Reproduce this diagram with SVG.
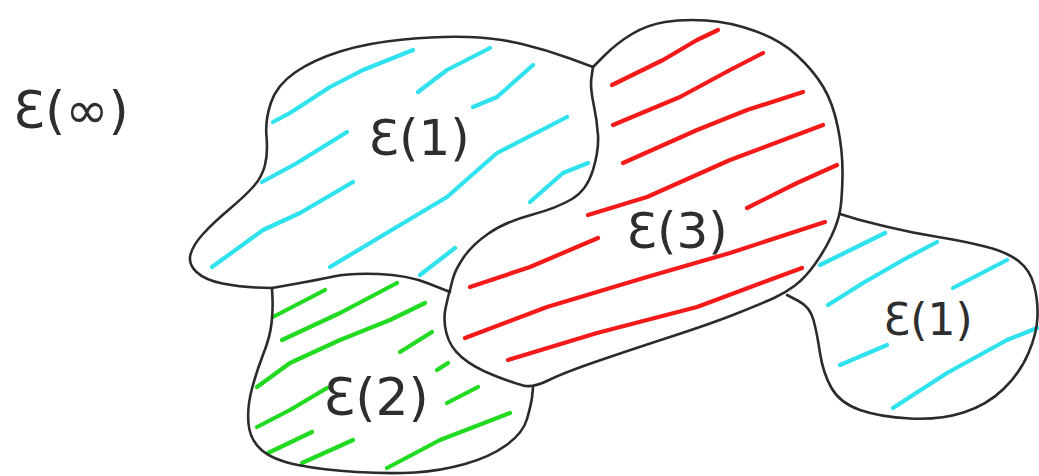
<svg xmlns="http://www.w3.org/2000/svg" width="1039" height="476" viewBox="0 0 1039 476">
<style>
.ol{fill:none;stroke:#2b2b2b;stroke-width:2.6;stroke-linecap:round;stroke-linejoin:round}
.h{fill:none;stroke-width:4.2;stroke-linecap:round;stroke-linejoin:round}
.c{stroke:#30e2ee}
.r{stroke:#f41a1a}
.g{stroke:#22da22}
.lab{font-family:"DejaVu Sans","Liberation Sans",sans-serif;fill:#2e2e2e;text-anchor:middle}
</style>
<rect width="1039" height="476" fill="#ffffff"/>
<g id="region-e-inf">
<text class="lab" x="71" y="128" font-size="52">Ɛ(∞)</text>
</g>
<g id="region-e1">
<g class="h c">
<polyline points="273,122 290,113 330,87 363,70 413,50"/>
<polyline points="418,92 447,70 490,48"/>
<polyline points="473,107 497,97 533,65"/>
<polyline points="262,182 297,163 347,132"/>
<polyline points="212,267 263,230 300,213 353,182"/>
<polyline points="330,267 380,237 447,197 497,153 567,117"/>
<polyline points="530,202 563,173 588,163"/>
<polyline points="420,275 455,248"/>
</g>
<path class="ol" d="M272,288 L256,287.5 Q240,287 222.5,283.5 Q205,280 196.5,272 Q188,264 190.5,254.5 Q193,245 203,234 Q213,223 229,209.5 Q245,196 253.5,186.5 Q262,177 265,165 Q268,153 266.5,136.5 Q265,120 271,102.5 Q277,85 295,72.5 Q313,60 340,51.5 Q367,43 403.5,39.5 Q440,36 468.5,37 Q497,38 522,44 Q547,50 570,58.5 L593,67"/>
<text class="lab" x="419" y="155" font-size="50">Ɛ(1)</text>
</g>
<g id="region-e3">
<g class="h r">
<polyline points="612,85 663,60 697,40 718,30"/>
<polyline points="613,125 680,97 730,70 763,53"/>
<polyline points="623,163 697,130 747,110 803,92"/>
<polyline points="588,215 647,197 730,160 823,125"/>
<polyline points="747,208 797,183 837,165"/>
<polyline points="470,287 530,267 598,238"/>
<polyline points="465,338 547,307 647,277 730,253 825,222"/>
<polyline points="508,360 597,333 697,307 802,268"/>
</g>
<path class="ol" d="M593,67 L605,55 Q617,43 632,34 Q647,25 665,22 Q683,19 706.5,20.5 Q730,22 755,31 Q780,40 796.5,55 Q813,70 823,86.5 Q833,103 838,128 Q843,153 842.5,176.5 Q842,200 840,211 Q838,222 831.5,236 Q825,250 815,264 Q805,278 795,285.5 Q785,293 774,298 Q763,303 738,313 Q713,323 671.5,336.5 Q630,350 596.5,361.5 Q563,373 548,380.5 Q533,388 523,385.5 Q513,383 493,375 Q473,367 461.5,357 Q450,347 446.5,333.5 Q443,320 445.5,308.5 Q448,297 449,293.5 L450,290"/>
<text class="lab" x="677" y="248" font-size="50">Ɛ(3)</text>
</g>
<g id="region-e2">
<g class="h g">
<polyline points="273,317 325,290"/>
<polyline points="282,340 340,313 397,283"/>
<polyline points="257,387 290,363 340,340 390,320 425,303"/>
<polyline points="400,352 432,332"/>
<polyline points="437,370 448,363"/>
<polyline points="257,427 290,410 327,388"/>
<polyline points="447,403 478,387"/>
<polyline points="268,453 312,432"/>
<polyline points="302,463 353,440"/>
<polyline points="387,468 440,440 510,413"/>
</g>
<path class="ol" d="M272,288 L272.5,299 Q273,310 271.5,323.5 Q270,337 263.5,353.5 Q257,370 252,388.5 Q247,407 248.5,423.5 Q250,440 261.5,450 Q273,460 298,465 Q323,470 356.5,472 Q390,474 415,472.5 Q440,471 465,464 Q490,457 506.5,445 Q523,433 527,419 Q531,405 532,397.5 L533,388"/>
<text class="lab" x="376" y="415" font-size="52">Ɛ(2)</text>
</g>
<g id="region-e1b">
<g class="h c">
<polyline points="820,265 885,233"/>
<polyline points="828,305 863,283 903,260 937,242"/>
<polyline points="953,288 1007,260"/>
<polyline points="840,365 887,345"/>
<polyline points="893,408 947,373 1007,340 1037,328"/>
</g>
<path class="ol" d="M840,214 L851.5,217.5 Q863,221 888,227 Q913,233 938,237 Q963,241 985,246.5 Q1007,252 1018.5,261 Q1030,270 1034,285 Q1038,300 1037.5,316.5 Q1037,333 1028.5,353 Q1020,373 1003.5,389 Q987,405 963.5,412.5 Q940,420 910,418.5 Q880,417 860,410 Q840,403 831.5,388 Q823,373 820,353 Q817,333 813.5,320 Q810,307 798.5,301 L787,295"/>
<text class="lab" x="928" y="335" font-size="44">Ɛ(1)</text>
</g>
<g id="boundaries">
<path class="ol" d="M593,67 L591.5,77 Q590,87 593.5,103.5 Q597,120 598,135 Q599,150 593,170 Q587,190 572,199 Q557,208 531,215 Q505,222 488.5,233.5 Q472,245 463.5,257.5 Q455,270 452.5,280 L450,290"/>
<path class="ol" d="M272,288 L294.5,284 Q317,280 333.5,276.5 Q350,273 378.5,274 Q407,275 428.5,283.5 L450,292"/>
</g>
</svg>
